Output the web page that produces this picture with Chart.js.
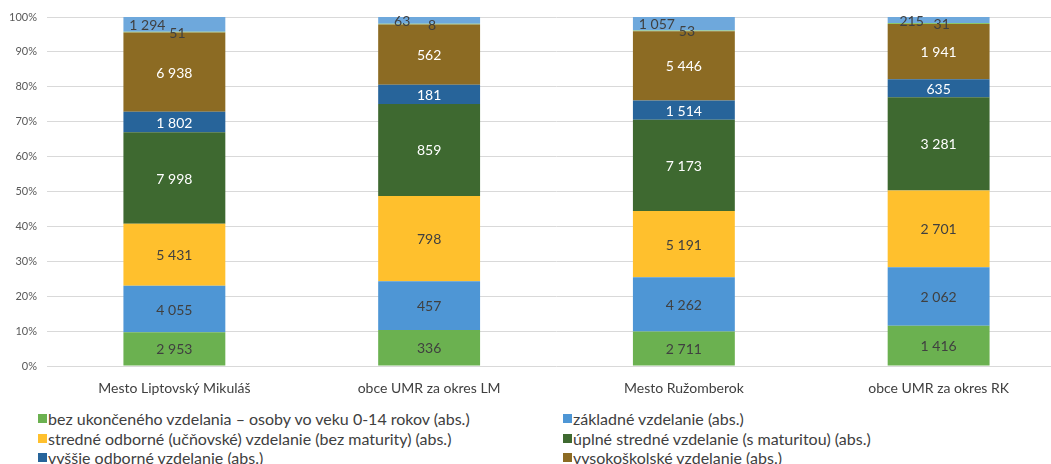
<!DOCTYPE html>
<html>
<head>
<meta charset="utf-8">
<script src="https://cdn.jsdelivr.net/npm/chart.js@4"></script>
<style>
  html, body { margin: 0; padding: 0; background: #fff; overflow: hidden; width: 1051px; height: 464px; }
  #wrap { position: absolute; left: 0; top: 0; width: 1066px; height: 395px; }
  #legend { position: absolute; left: 38px; top: 409px; display: grid; grid-template-columns: 525px auto;
    font-family: Lato, sans-serif; font-size: 16px; color: #404040; row-gap: 0; }
  #legend div { height: 19.5px; line-height: 19.5px; white-space: nowrap; display: flex; align-items: center; }
  #legend span.box { display: inline-block; width: 9px; height: 9px; margin-right: 1px; }
</style>
</head>
<body>
<div id="wrap"><canvas id="chart"></canvas></div>
<div id="legend"></div>
<script>
  const categories = ['Mesto Liptovský Mikuláš', 'obce UMR za okres LM', 'Mesto Ružomberok', 'obce UMR za okres RK'];
  const seriesNames = [
    'bez ukončeného vzdelania – osoby vo veku 0-14 rokov (abs.)',
    'základné vzdelanie (abs.)',
    'stredné odborné (učňovské) vzdelanie (bez maturity) (abs.)',
    'úplné stredné vzdelanie (s maturitou) (abs.)',
    'vyššie odborné vzdelanie (abs.)',
    'vysokoškolské vzdelanie (abs.)',
    'bez školského vzdelania (abs.)',
    'nezistené (abs.)'
  ];
  const bezUkonceneho = [2953, 336, 2711, 1416];
  const zakladne = [4055, 457, 4262, 2062];
  const stredneOdborne = [5431, 798, 5191, 2701];
  const uplneStredne = [7998, 859, 7173, 3281];
  const vyssieOdborne = [1802, 181, 1514, 635];
  const vysokoskolske = [6938, 562, 5446, 1941];
  const bezSkolskeho = [51, 8, 53, 31];
  const nezistene = [1294, 63, 1057, 215];
  const yTicks = [0, 10, 20, 30, 40, 50, 60, 70, 80, 90, 100];

  const raw = [bezUkonceneho, zakladne, stredneOdborne, uplneStredne, vyssieOdborne, vysokoskolske, bezSkolskeho, nezistene];
  const colors = ['#6BB150', '#4E96D5', '#FFC02D', '#3E6930', '#27649A', '#8C6B23', '#8CC66A', '#6EA8DC'];
  const labelColors = ['#404040', '#404040', '#404040', '#ffffff', '#ffffff', '#ffffff', '#404040', '#404040'];
  const labelShift = [0, 0, 0, 0, 0, 0, 3, -27];

  const totals = categories.map((c, i) => raw.reduce((s, arr) => s + arr[i], 0));

  const fmt = v => String(v).replace(/\B(?=(\d{3})+(?!\d))/g, ' ');

  const datasets = raw.map((arr, k) => ({
    label: seriesNames[k],
    data: arr.map((v, i) => v / totals[i] * 100),
    raw: arr,
    backgroundColor: colors[k],
    borderWidth: 0,
    barPercentage: 0.4,
    categoryPercentage: 1
  }));

  const labelPlugin = {
    id: 'segLabels',
    afterDatasetsDraw(chart) {
      const ctx = chart.ctx;
      ctx.save();
      ctx.font = '14px Lato, sans-serif';
      ctx.textAlign = 'center';
      ctx.textBaseline = 'middle';
      chart.data.datasets.forEach((ds, k) => {
        const meta = chart.getDatasetMeta(k);
        meta.data.forEach((bar, i) => {
          const p = bar.getProps(['x', 'y', 'base'], true);
          ctx.fillStyle = labelColors[k];
          ctx.fillText(fmt(ds.raw[i]), p.x + labelShift[k], (p.y + p.base) / 2 + 1);
        });
      });
      ctx.restore();
    }
  };

  new Chart(document.getElementById('chart'), {
    type: 'bar',
    data: { labels: categories, datasets: datasets },
    plugins: [labelPlugin],
    options: {
      responsive: true,
      maintainAspectRatio: false,
      animation: false,
      layout: { padding: { top: 17, left: 0, right: 0, bottom: 0 } },
      plugins: { legend: { display: false }, tooltip: { enabled: false } },
      scales: {
        x: {
          stacked: true,
          grid: { display: false },
          border: { display: false },
          ticks: { color: '#404040', font: { family: 'Lato', size: 14 }, padding: 6 },
          afterFit: s => { s.height = 29; }
        },
        y: {
          stacked: true,
          min: 0,
          max: 100,
          afterBuildTicks: s => { s.ticks = yTicks.map(v => ({ value: v })); },
          grid: { color: '#d9d9d9', lineWidth: 1, drawTicks: false },
          border: { display: false },
          ticks: { color: '#595959', font: { family: 'Lato', size: 11 }, padding: 10, callback: v => v + '%' },
          afterFit: s => { s.width = 47; }
        }
      }
    }
  });

  const legendEl = document.getElementById('legend');
  seriesNames.slice(0, 6).forEach((name, k) => {
    const d = document.createElement('div');
    d.innerHTML = '<span class="box" style="background:' + colors[k] + '"></span>' + name;
    legendEl.appendChild(d);
  });
</script>
</body>
</html>
